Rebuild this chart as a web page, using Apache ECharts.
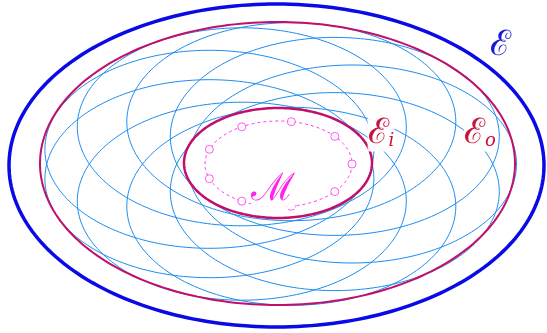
<!DOCTYPE html>
<html>
<head>
<meta charset="utf-8">
<script src="https://cdn.jsdelivr.net/npm/echarts@6/dist/echarts.min.js"></script>
<style>
  html, body { margin: 0; padding: 0; background: #ffffff; }
  #chart { width: 547px; height: 333px; }
</style>
</head>
<body>
<div id="chart"></div>
<script>
// Ellipses as [centerX, centerY, semiAxisX, semiAxisY] in drawing units (y grows downward)
const outerEllipse = [276.5, 165.5, 267.5, 161.5];   // ℰ
const outerFitEllipse = [277.5, 163.5, 237.5, 141.5]; // ℰ_o
const innerFitEllipse = [278, 163, 94, 55];           // ℰ_i
const manifoldEllipse = [278.5, 164, 73.5, 43];       // ℳ (dashed)

// Sample points on ℳ
const manifoldPoints = [
  [352, 164], [334.8, 136.4], [291.3, 121.7], [241.8, 126.8], [209.4, 149.3],
  [209.4, 178.7], [241.8, 201.2], [291.3, 206.3], [334.8, 191.6]
];

// Semi-axes of the ellipse attached to every sample point
const sampleEllipseAxes = [164.5, 99];

const labelTexts = ['ℰ', 'ℰ', 'ℰ', 'ℳ'];
const labelSubs = ['', 'i', 'o', ''];

const chart = echarts.init(document.getElementById('chart'), null, { renderer: 'canvas' });

function ellipsePoints(api, cx, cy, a, b) {
  const pts = [];
  const n = 240;
  for (let k = 0; k <= n; k++) {
    const t = (k / n) * Math.PI * 2;
    pts.push(api.coord([cx + a * Math.cos(t), cy + b * Math.sin(t)]));
  }
  return pts;
}

function ellipseSeries(name, items, style, z) {
  return {
    type: 'custom',
    name: name,
    coordinateSystem: 'cartesian2d',
    z: z,
    silent: true,
    data: items,
    renderItem: function (params, api) {
      const cx = api.value(0), cy = api.value(1), a = api.value(2), b = api.value(3);
      return {
        type: 'polygon',
        shape: { points: ellipsePoints(api, cx, cy, a, b), smooth: 0 },
        style: style
      };
    }
  };
}

const sampleEllipses = manifoldPoints.map(p => [p[0], p[1], sampleEllipseAxes[0], sampleEllipseAxes[1]]);

const labelItems = [
  [500, 46, 0],
  [381, 134, 1],
  [480, 134, 2],
  [273, 190, 3]
];
const labelColors = ['#1a1ad6', '#c8143c', '#c8143c', '#ff22ee'];

const option = {
  animation: false,
  backgroundColor: '#ffffff',
  grid: { left: 0, right: 0, top: 0, bottom: 0 },
  xAxis: { type: 'value', min: 0, max: 547, show: false },
  yAxis: { type: 'value', min: 0, max: 333, inverse: true, show: false },
  series: [
    ellipseSeries('sample', sampleEllipses, { fill: 'none', stroke: '#1c8cf0', lineWidth: 1 }, 1),
    ellipseSeries('outerFit', [outerFitEllipse], { fill: 'none', stroke: '#c0106a', lineWidth: 2 }, 2),
    ellipseSeries('outer', [outerEllipse], { fill: 'none', stroke: '#0a0ae6', lineWidth: 3.5 }, 2),
    ellipseSeries('innerFit', [innerFitEllipse], { fill: '#ffffff', stroke: '#c0106a', lineWidth: 2.5 }, 3),
    ellipseSeries('manifold', [manifoldEllipse], { fill: 'none', stroke: '#ff33ee', lineWidth: 1, lineDash: [3, 3] }, 4),
    {
      type: 'scatter',
      name: 'points',
      z: 5,
      silent: true,
      data: manifoldPoints,
      symbol: 'circle',
      symbolSize: 8,
      itemStyle: { color: '#ffffff', borderColor: '#ff33ee', borderWidth: 1 }
    },
    {
      type: 'custom',
      name: 'labels',
      z: 6,
      silent: true,
      data: labelItems,
      renderItem: function (params, api) {
        const idx = api.value(2);
        const p = api.coord([api.value(0), api.value(1)]);
        const sub = labelSubs[idx];
        return {
          type: 'text',
          x: p[0], y: p[1],
          style: {
            text: sub ? '{m|' + labelTexts[idx] + '}{s|' + sub + '}' : '{m|' + labelTexts[idx] + '}',
            align: 'center',
            verticalAlign: 'middle',
            backgroundColor: idx === 0 ? 'transparent' : 'rgba(255,255,255,0.9)',
            rich: {
              m: { fontFamily: 'DejaVu Serif', fontSize: idx === 3 ? 38 : 35, fill: labelColors[idx] },
              s: { fontFamily: 'DejaVu Serif', fontStyle: 'italic', fontSize: 18, fill: labelColors[idx], padding: [14, 0, 0, 0] }
            }
          }
        };
      }
    }
  ]
};

chart.setOption(option);
</script>
</body>
</html>
